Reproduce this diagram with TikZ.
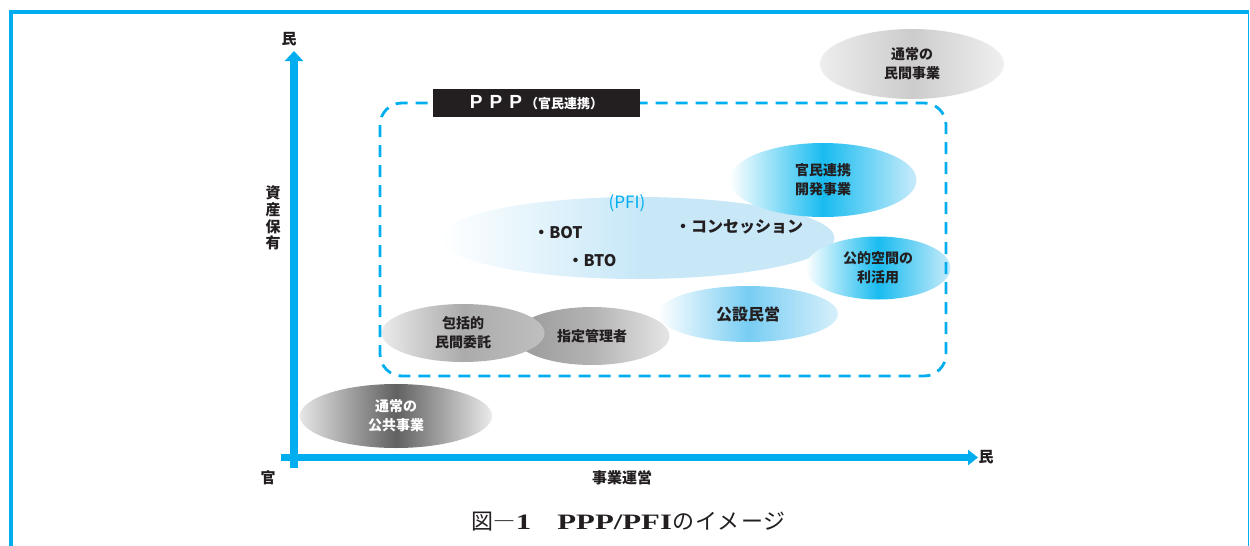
\documentclass[tikz,border=0pt]{standalone}
\usepackage{fontspec}
\usetikzlibrary{shapes.geometric,arrows.meta}
\newfontfamily\jp{Noto Sans CJK JP}
\newfontfamily\serifw{Liberation Serif}[FakeStretch=1.4]
\newfontfamily\sansb{Liberation Sans}
\definecolor{cy}{RGB}{0,174,239}
\definecolor{ink}{RGB}{35,31,32}
\definecolor{pale}{RGB}{200,232,248}
\definecolor{bmid}{RGB}{25,188,240}
\definecolor{bright}{RGB}{200,235,250}
\definecolor{lbmid}{RGB}{120,205,243}
\definecolor{lbright}{RGB}{215,240,251}
\tikzset{
  blob/.style={ellipse, inner sep=0pt, align=center, text=ink,
    font=\jp\bfseries\fontsize{14}{19}\selectfont},
  lbl/.style={inner sep=0pt, text=ink, font=\jp\bfseries\fontsize{15}{17}\selectfont, align=center},
  item/.style={inner sep=0pt, text=ink, font=\jp\bfseries\fontsize{16}{18}\selectfont}
}
\begin{document}
\begin{tikzpicture}[x=1pt,y=-1pt]
\useasboundingbox (0,0) rectangle (1250,546);
% frame
\draw[cy, line width=1.2pt] (1248.5,11) -- (1248.5,546);
\draw[cy, line width=4pt] (11,546) -- (11,11.5) -- (1249,11.5);
% ellipses
\node[blob, minimum width=184pt, minimum height=70pt,
  left color=black!7, right color=black!6, middle color=black!20] (minkan) at (912,64) {通常の\\民間事業};
\node[blob, minimum width=395pt, minimum height=82pt,
  left color=white, right color=pale, middle color=pale] (pfi) at (637,238) {};
\node[blob, minimum width=187pt, minimum height=74pt,
  left color=white, right color=bright, middle color=bmid] (kanmin) at (823,180) {官民連携\\開発事業};
\node[blob, minimum width=145pt, minimum height=63pt,
  left color=white, right color=bright, middle color=bmid] (koteki) at (878,268) {公的空間の\\利活用};
\node[blob, minimum width=180pt, minimum height=56pt,
  left color=white, right color=lbright, middle color=lbmid, font=\jp\bfseries\fontsize{16}{18}\selectfont] (kosetsu) at (748,314) {公設民営};
\node[blob, minimum width=155pt, minimum height=58pt,
  left color=black!40, right color=black!10, middle color=black!30] (shitei) at (592,336) {指定管理者};
\node[blob, minimum width=163pt, minimum height=58pt,
  left color=black!8, right color=black!25, middle color=black!33] (hokatsu) at (463,333) {包括的\\民間委託};
\node[blob, minimum width=192pt, minimum height=64pt, text=white,
  left color=black!10, right color=black!8, middle color=black!62] (kokyo) at (396,416) {通常の\\公共事業};
% PFI texts
\node[inner sep=0pt, text=cy, font=\jp\fontsize{17}{19}\selectfont] (pfil) at (627,203) {(PFI)};
\node[item] (bot) at (558,233) {・BOT};
\node[item] (bto) at (592,261) {・BTO};
\node[item] (con) at (739,227) {・コンセッション};
% dashed PPP region
\draw[cy, line width=2.8pt, dash pattern=on 12pt off 8pt, rounded corners=22pt] (380,103) rectangle (946,376);
\node[fill=ink, minimum width=207pt, minimum height=28pt, inner sep=0pt, text=white] (ppp) at (536.5,103)
  {{\sansb\bfseries\fontsize{19}{19}\selectfont P\hspace{7pt}P\hspace{7pt}P}\hspace{3pt}{\jp\bfseries\fontsize{13}{13}\selectfont （官民連携）}};
% axes
\coordinate (vb) at (294,468);
\coordinate (vt) at (294,51);
\coordinate (hl) at (281,457.5);
\coordinate (hr) at (978,457.5);
\draw[cy, line width=8pt, -{Triangle[width=18pt,length=10pt]}] (vb) -- (vt);
\draw[cy, line width=7pt, -{Triangle[width=15pt,length=10pt]}] (hl) -- (hr);
% axis labels
\node[lbl] (ytop) at (289,39) {民};
\node[lbl] (orig) at (268,478) {官};
\node[lbl] (xend) at (986,457) {民};
\node[lbl] (xlab) at (622,478) {事業運営};
\node[lbl, font=\jp\bfseries\fontsize{15}{16.8}\selectfont] (ylab) at (273,218) {資\\産\\保\\有};
% caption
\node[inner sep=0pt, text=ink, font=\fontsize{22}{24}\selectfont] (cap) at (629,522)
  {{\jp 図―}{\serifw\bfseries 1}\hspace{26pt}{\serifw\bfseries PPP/PFI}{\jp の\hspace{1pt}イ\hspace{1pt}メ\hspace{1pt}ー\hspace{1pt}ジ}};
\end{tikzpicture}
\end{document}
